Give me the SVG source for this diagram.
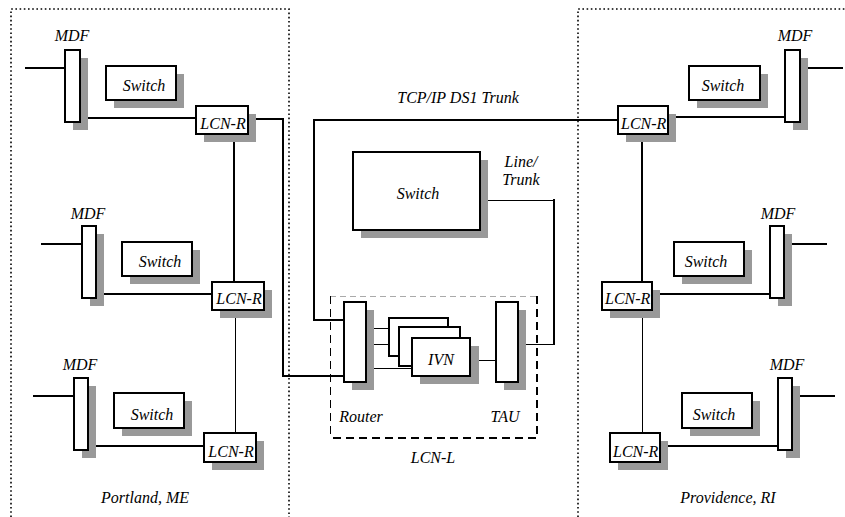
<svg xmlns="http://www.w3.org/2000/svg" width="845" height="517" viewBox="0 0 845 517" font-family="Liberation Serif, DejaVu Serif, serif" font-style="italic">
<style>
text{font-family:'Liberation Serif','DejaVu Serif',serif;font-style:italic;font-size:16px;fill:#000}
.box{fill:#fff;stroke:#000;stroke-width:2}
.sh{fill:#999;stroke:none}
.thick{fill:none;stroke:#000;stroke-width:2}
.thin{fill:none;stroke:#000;stroke-width:1}
.dot{fill:none;stroke:#000;stroke-width:1.6;stroke-dasharray:1.6 2.6}
.lcn{font-size:16px}
.c{text-anchor:middle}
</style>
<rect width="845" height="517" fill="#fff"/>
<g id="regions">
<path class="dot" d="M11,517 V9 H289 V517"/>
<path class="dot" d="M578,517 V9 H845"/>
<text class="c" x="145" y="503">Portland, ME</text>
<text class="c" x="728" y="503">Providence, RI</text>
</g>
<g id="lcn-l">
<line x1="330" y1="296.5" x2="537" y2="296.5" stroke="#aaa" stroke-width="1" stroke-dasharray="6 4"/>
<line x1="330.5" y1="296" x2="330.5" y2="438" stroke="#000" stroke-width="1" stroke-dasharray="8 5"/>
<path d="M537,296 V438 H330" fill="none" stroke="#000" stroke-width="2" stroke-dasharray="8 5"/>
<text class="c" x="433" y="463">LCN-L</text>
</g>
<g id="connectors">
<line class="thick" x1="25" y1="68" x2="65" y2="68"/>
<line class="thick" x1="41" y1="244" x2="82" y2="244"/>
<line class="thick" x1="33" y1="396" x2="74" y2="396"/>
<line class="thick" x1="78" y1="118" x2="198" y2="118"/>
<line class="thick" x1="94" y1="294" x2="212" y2="294"/>
<line class="thick" x1="86" y1="446" x2="204" y2="446"/>
<line class="thick" x1="234" y1="134" x2="234" y2="282"/>
<line class="thin" x1="235.5" y1="310" x2="235.5" y2="433"/>
<path class="thick" d="M248,119 H283 V376 H346"/>
<path class="thick" d="M346,320 H314 V120 H618"/>
<line class="thick" x1="642" y1="134" x2="642" y2="282"/>
<line class="thin" x1="642.5" y1="310" x2="642.5" y2="433"/>
<line class="thick" x1="668" y1="117" x2="790" y2="117"/>
<line class="thick" x1="652" y1="294" x2="774" y2="294"/>
<line class="thick" x1="660" y1="446" x2="782" y2="446"/>
<line class="thick" x1="800" y1="68" x2="843" y2="68"/>
<line class="thick" x1="784" y1="244" x2="827" y2="244"/>
<line class="thick" x1="792" y1="396" x2="835" y2="396"/>
<path class="thin" d="M482,200.5 H554"/>
<path class="thick" d="M554,199 V345"/>
<path class="thin" d="M554,344.5 H522"/>
<line class="thin" x1="370" y1="328.5" x2="394" y2="328.5"/>
<line class="thin" x1="370" y1="344.5" x2="402" y2="344.5"/>
<line class="thin" x1="370" y1="368.5" x2="413" y2="368.5"/>
<line class="thin" x1="474" y1="360.5" x2="499" y2="360.5"/>
<text class="c" x="458" y="103">TCP/IP DS1 Trunk</text>
<text class="c" x="521" y="167">Line/</text>
<text class="c" x="521" y="185">Trunk</text>
</g>
<g id="mdf-l1"><rect class="sh" x="73" y="58" width="15" height="72"/><rect class="box" x="65" y="50" width="15" height="72"/><text class="c" x="72" y="41">MDF</text></g>
<g id="mdf-l2"><rect class="sh" x="90" y="234" width="14" height="72"/><rect class="box" x="82" y="226" width="14" height="72"/><text class="c" x="88" y="219">MDF</text></g>
<g id="mdf-l3"><rect class="sh" x="82" y="386" width="14" height="72"/><rect class="box" x="74" y="378" width="14" height="72"/><text class="c" x="80" y="370">MDF</text></g>
<g id="switch-l1"><rect class="sh" x="114" y="74" width="70" height="34"/><rect class="box" x="106" y="66" width="70" height="34"/><text class="c" x="144" y="91">Switch</text></g>
<g id="switch-l2"><rect class="sh" x="130" y="250" width="70" height="34"/><rect class="box" x="122" y="242" width="70" height="34"/><text class="c" x="160" y="267">Switch</text></g>
<g id="switch-l3"><rect class="sh" x="122" y="401" width="70" height="35"/><rect class="box" x="114" y="393" width="70" height="35"/><text class="c" x="152" y="420">Switch</text></g>
<g id="lcnr-l1"><rect class="sh" x="204" y="114" width="52" height="28"/><rect class="box" x="196" y="106" width="52" height="28"/><text class="lcn c" x="223" y="129">LCN-R</text></g>
<g id="lcnr-l2"><rect class="sh" x="220" y="290" width="52" height="28"/><rect class="box" x="212" y="282" width="52" height="28"/><text class="lcn c" x="239" y="304">LCN-R</text></g>
<g id="lcnr-l3"><rect class="sh" x="212" y="441" width="52" height="29"/><rect class="box" x="204" y="433" width="52" height="29"/><text class="lcn c" x="231" y="457">LCN-R</text></g>
<g id="switch-c"><rect class="sh" x="361" y="160" width="127" height="78"/><rect class="box" x="353" y="152" width="127" height="78"/><text class="c" x="418" y="199">Switch</text></g>
<g id="router"><rect class="sh" x="352" y="310" width="22" height="80"/><rect class="box" x="344" y="302" width="22" height="80"/><text class="c" x="361" y="422">Router</text></g>
<g id="ivn">
<rect class="box" x="389" y="318" width="59" height="38"/>
<rect class="box" x="399" y="327" width="61" height="39"/>
<rect class="sh" x="420" y="346" width="59" height="38"/>
<rect class="box" x="412" y="338" width="58" height="38"/>
<text class="c" x="441" y="365">IVN</text>
</g>
<g id="tau"><rect class="sh" x="504" y="310" width="22" height="80"/><rect class="box" x="496" y="302" width="22" height="80"/><text class="c" x="505" y="422">TAU</text></g>
<g id="lcnr-r1"><rect class="sh" x="626" y="114" width="50" height="28"/><rect class="box" x="618" y="106" width="50" height="28"/><text class="lcn" x="621" y="129">LCN-R</text></g>
<g id="lcnr-r2"><rect class="sh" x="610" y="290" width="50" height="28"/><rect class="box" x="602" y="282" width="50" height="28"/><text class="lcn" x="605" y="304">LCN-R</text></g>
<g id="lcnr-r3"><rect class="sh" x="618" y="441" width="50" height="29"/><rect class="box" x="610" y="433" width="50" height="29"/><text class="lcn" x="613" y="457">LCN-R</text></g>
<g id="switch-r1"><rect class="sh" x="697" y="74" width="71" height="34"/><rect class="box" x="689" y="66" width="71" height="34"/><text class="c" x="723" y="91">Switch</text></g>
<g id="switch-r2"><rect class="sh" x="682" y="250" width="70" height="34"/><rect class="box" x="674" y="242" width="70" height="34"/><text class="c" x="706" y="267">Switch</text></g>
<g id="switch-r3"><rect class="sh" x="690" y="401" width="70" height="35"/><rect class="box" x="682" y="393" width="70" height="35"/><text class="c" x="714" y="420">Switch</text></g>
<g id="mdf-r1"><rect class="sh" x="793" y="58" width="15" height="72"/><rect class="box" x="785" y="50" width="15" height="72"/><text class="c" x="795" y="41">MDF</text></g>
<g id="mdf-r2"><rect class="sh" x="778" y="234" width="14" height="72"/><rect class="box" x="770" y="226" width="14" height="72"/><text class="c" x="778" y="219">MDF</text></g>
<g id="mdf-r3"><rect class="sh" x="786" y="386" width="14" height="72"/><rect class="box" x="778" y="378" width="14" height="72"/><text class="c" x="787" y="370">MDF</text></g>
</svg>
